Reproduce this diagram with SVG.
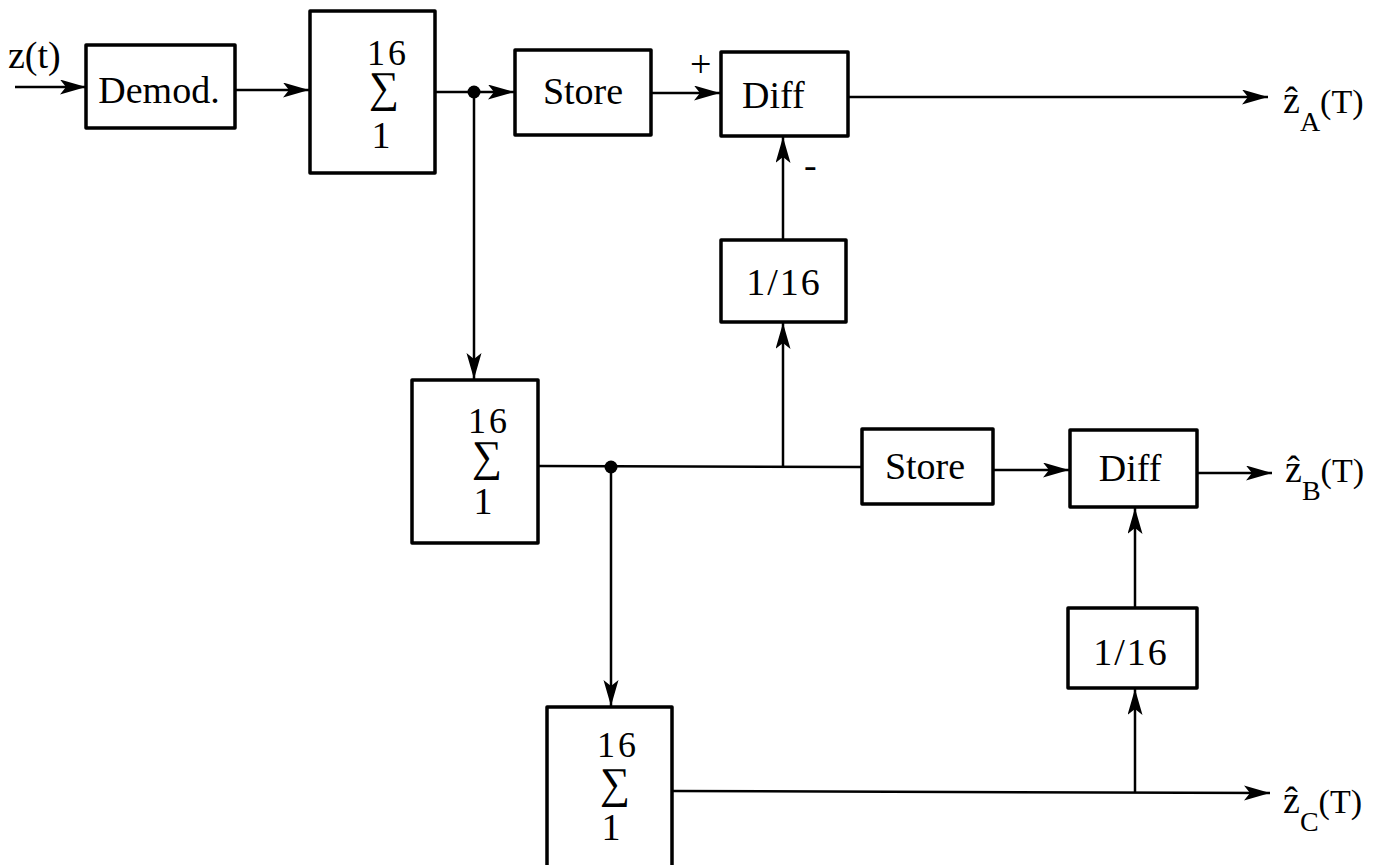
<svg xmlns="http://www.w3.org/2000/svg" width="1397" height="865" viewBox="0 0 1397 865">
<style>
.box{fill:#fff;stroke:#000;stroke-width:3.5;stroke-linejoin:round}
.ln{fill:none;stroke:#000;stroke-width:2.5}
.t{font-family:"Liberation Serif","DejaVu Serif",serif;font-size:38px;fill:#000}
.m{text-anchor:middle}
.n{font-size:36px;letter-spacing:3px}
.sg{font-family:"Liberation Serif","DejaVu Serif",serif;font-size:30px;fill:#000;text-anchor:middle}
.sub{font-size:28px}
.par{font-size:34px}
</style>
<defs>
<marker id="ah" markerUnits="userSpaceOnUse" markerWidth="28" markerHeight="16" refX="26" refY="7.5" orient="auto">
<path d="M0,0 L26,7.5 L0,15 L6,7.5 Z" fill="#000"/>
</marker>
</defs>
<g id="connectors">
<line class="ln" x1="15" y1="87" x2="86" y2="87" marker-end="url(#ah)"/>
<line class="ln" x1="235" y1="90" x2="309" y2="90" marker-end="url(#ah)"/>
<line class="ln" x1="435" y1="92" x2="514" y2="92" marker-end="url(#ah)"/>
<line class="ln" x1="651" y1="93" x2="720" y2="93" marker-end="url(#ah)"/>
<line class="ln" x1="848" y1="97" x2="1268" y2="97" marker-end="url(#ah)"/>
<line class="ln" x1="474" y1="92" x2="474" y2="379" marker-end="url(#ah)"/>
<line class="ln" x1="783" y1="240" x2="783" y2="137" marker-end="url(#ah)"/>
<line class="ln" x1="538" y1="466" x2="862" y2="467"/>
<line class="ln" x1="783" y1="466" x2="783" y2="323" marker-end="url(#ah)"/>
<line class="ln" x1="611" y1="467" x2="611" y2="706" marker-end="url(#ah)"/>
<line class="ln" x1="993" y1="470" x2="1069" y2="470" marker-end="url(#ah)"/>
<line class="ln" x1="1197" y1="473" x2="1272" y2="473" marker-end="url(#ah)"/>
<line class="ln" x1="672" y1="791" x2="1270" y2="793" marker-end="url(#ah)"/>
<line class="ln" x1="1135" y1="792" x2="1135" y2="689" marker-end="url(#ah)"/>
<line class="ln" x1="1135" y1="608" x2="1135" y2="508" marker-end="url(#ah)"/>
<circle cx="474" cy="92" r="6.5" fill="#000"/>
<circle cx="611" cy="467" r="6.5" fill="#000"/>
</g>
<g id="input-label"><text class="t" x="8" y="68" font-size="34">z(t)</text></g>
<g id="demod"><rect class="box" x="86" y="45" width="149" height="83"/><text class="t m" x="159" y="103">Demod.</text></g>
<g id="sum1"><rect class="box" x="310" y="11" width="125" height="162"/>
<text class="t m n" x="388" y="65">16</text>
<text class="sg" x="0" y="0" transform="translate(384,102) scale(1.4,1.45)">∑</text>
<text class="t m" x="381" y="148">1</text></g>
<g id="store1"><rect class="box" x="515" y="50" width="136" height="85"/><text class="t m" x="583" y="104">Store</text></g>
<g id="diff1"><rect class="box" x="721" y="52" width="127" height="84"/><text class="t" x="742" y="108">Diff</text>
<text class="t" x="690" y="77" font-size="26">+</text><text class="t" x="804" y="178" font-size="28">-</text></g>
<g id="out-a"><text class="t" x="1283" y="113">ẑ<tspan class="sub" dy="18">A</tspan><tspan class="par" dy="-18">(T)</tspan></text></g>
<g id="scale1"><rect class="box" x="721" y="240" width="125" height="82"/><text class="t m" x="784" y="295" letter-spacing="2">1/16</text></g>
<g id="sum2"><rect class="box" x="412" y="380" width="126" height="163"/>
<text class="t m n" x="489" y="433">16</text>
<text class="sg" x="0" y="0" transform="translate(487,471) scale(1.4,1.45)">∑</text>
<text class="t m" x="483" y="514">1</text></g>
<g id="store2"><rect class="box" x="862" y="429" width="131" height="75"/><text class="t m" x="925" y="479">Store</text></g>
<g id="diff2"><rect class="box" x="1070" y="430" width="127" height="77"/><text class="t m" x="1130" y="481">Diff</text></g>
<g id="out-b"><text class="t" x="1285" y="482">ẑ<tspan class="sub" dy="18">B</tspan><tspan class="par" dy="-18">(T)</tspan></text></g>
<g id="scale2"><rect class="box" x="1068" y="608" width="129" height="80"/><text class="t m" x="1131" y="665" letter-spacing="2">1/16</text></g>
<g id="sum3"><rect class="box" x="547" y="707" width="125" height="175"/>
<text class="t m n" x="618" y="757">16</text>
<text class="sg" x="0" y="0" transform="translate(615,798) scale(1.4,1.45)">∑</text>
<text class="t m" x="611" y="840">1</text></g>
<g id="out-c"><text class="t" x="1283" y="813">ẑ<tspan class="sub" dy="18">C</tspan><tspan class="par" dy="-18">(T)</tspan></text></g>
</svg>
